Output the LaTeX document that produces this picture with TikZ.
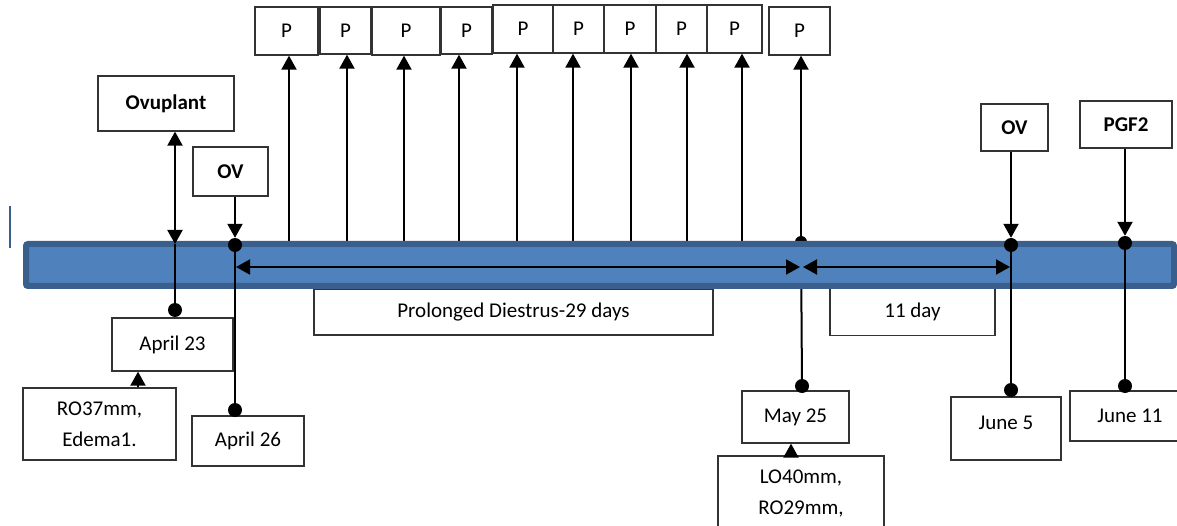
\documentclass[tikz,border=0pt]{standalone}
\usepackage{fontspec}
\setmainfont{Carlito}
\usetikzlibrary{arrows.meta}
\definecolor{barfill}{RGB}{79,129,189}
\definecolor{barline}{RGB}{58,95,140}
\begin{document}
\begin{tikzpicture}[x=1pt,y=-1pt,
  box/.style={draw=black!80,line width=1.3pt,fill=white,inner sep=0pt,font=\fontsize{21}{31}\selectfont,align=center},
  bbox/.style={box,font=\fontsize{21}{31}\selectfont\bfseries},
  conn/.style={line width=2pt},
  arr/.style={conn,-{Triangle[length=14pt,width=15pt]}},
  darr/.style={conn,{Triangle[length=14pt,width=15pt]}-{Triangle[length=14pt,width=15pt]}},
  dot/.style={circle,fill=black,inner sep=0pt,minimum size=14pt}]
\useasboundingbox (0,0) rectangle (1177,526);

% small blue mark
\draw[barline,line width=2.5pt] (10,206) -- (10,248);

% P boxes
\node[box,minimum width=63,minimum height=48] (p1) at (286.5,31) {P};
\node[box,minimum width=51,minimum height=47] (p2) at (345.5,30.5) {P};
\node[box,minimum width=68,minimum height=48] (p3) at (406,31) {P};
\node[box,minimum width=51,minimum height=47] (p4) at (466.5,30.5) {P};
\node[box,minimum width=60,minimum height=48] (p5) at (523,29) {P};
\node[box,minimum width=51,minimum height=48] (p6) at (578.5,29) {P};
\node[box,minimum width=52,minimum height=48] (p7) at (630,29) {P};
\node[box,minimum width=51,minimum height=48] (p8) at (681.5,29) {P};
\node[box,minimum width=55,minimum height=48] (p9) at (734.5,29) {P};
\node[box,minimum width=61,minimum height=48] (p10) at (799.5,31) {P};

% upper boxes
\node[bbox,minimum width=136,minimum height=55] (ovup) at (166,103.5) {Ovuplant};
\node[bbox,minimum width=75,minimum height=49] (ov1) at (230.5,171.5) {OV};
\node[bbox,minimum width=67,minimum height=47] (ov2) at (1014.5,127.5) {OV};
\node[bbox,minimum width=92,minimum height=47] (pgf) at (1126,124.5) {PGF2};

% lower boxes
\node[box,minimum width=399,minimum height=46] (pd) at (513.5,312) {Prolonged Diestrus-29 days};
\node[box,minimum width=165,minimum height=47] (eleven) at (912.5,312) {11 day};
\node[box,minimum width=121,minimum height=53] (a23) at (172.5,344.5) {April 23};
\node[box,minimum width=153,minimum height=72] (ro) at (99.5,424) {RO37mm,\\Edema1.};
\node[box,minimum width=112,minimum height=50] (a26) at (248,441) {April 26};
\node[box,minimum width=107,minimum height=52] (m25) at (795.5,417) {May 25};
\node[box,minimum width=166,minimum height=76] (lo) at (801,494) {LO40mm,\\RO29mm,};
\node[box,minimum width=110,minimum height=63,text depth=12pt] (j5) at (1006,428.5) {June 5};
\node[box,minimum width=120,minimum height=50] (j11) at (1130,416) {June 11};

% lower dots
\node[dot] (a23d) at (175,310) {};
\node[dot] (a26d) at (235,410) {};
\node[dot] (m25d) at (802,386) {};
\node[dot] (j5d) at (1011,390) {};
\node[dot] (j11d) at (1125,386) {};

% arrows between lower boxes
\coordinate (r0) at (138,0);
\coordinate (r1) at (791,0);
\draw[arr] (ro.north -| r0) -- (a23.south -| r0);
\draw[arr] (lo.north -| r1) -- (m25.south -| r1);

% P arrows from bar top
\foreach \i/\x in {1/289,2/347,3/404,4/459,5/517,6/573,7/631,8/687,9/742,10/801}{
  \coordinate (q\i) at (\x,243);
  \draw[arr] (q\i) -- (q\i |- p\i.south);
}
\node[dot,minimum size=12pt] (d10) at (801,242) {};
\draw[conn] (d10) -- (m25d);

% bar
\draw[barline,fill=barfill,line width=6pt,rounded corners=2pt] (26,244) rectangle (1174,286);

% bar dots
\node[dot] (d1) at (235,245) {};
\node[dot] (dov2) at (1011,245) {};
\node[dot] (dpg) at (1125,243) {};

% Ovuplant
\coordinate (c0) at (175,244);
\draw[darr] (c0 |- ovup.south) -- (c0);
\draw[conn] (c0) -- (a23d);

% OV 1
\draw[arr] (d1 |- ov1.south) -- (d1.north);
\draw[conn] (d1) -- (a26d);

% OV 2
\draw[arr] (dov2 |- ov2.south) -- (dov2.north);
\draw[conn] (dov2) -- (j5d);

% PGF2
\draw[arr] (dpg |- pgf.south) -- (dpg.north);
\draw[conn] (dpg) -- (j11d);

% interval arrows in bar
\coordinate (h1) at (236,267);
\coordinate (h2) at (800,267);
\coordinate (h3) at (803,267);
\coordinate (h4) at (1010,267);
\draw[darr] (h1) -- (h2);
\draw[darr] (h3) -- (h4);
\end{tikzpicture}
\end{document}
